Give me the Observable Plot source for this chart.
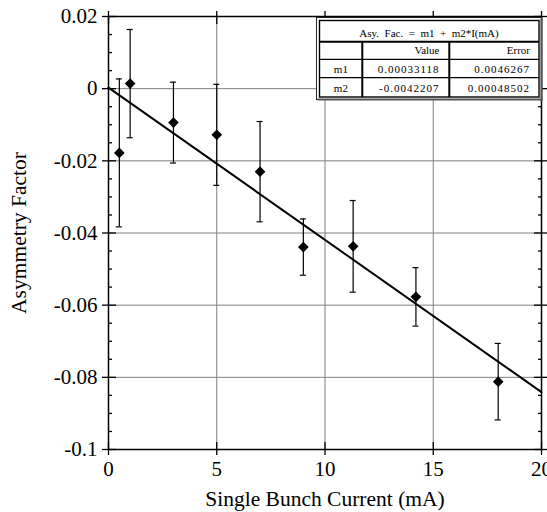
<!DOCTYPE html>
<html>
<head>
<meta charset="utf-8">
<script src="https://cdn.jsdelivr.net/npm/d3@7"></script>
<script src="https://cdn.jsdelivr.net/npm/@observablehq/plot@0.6"></script>
<style>
  html, body { margin: 0; padding: 0; background: white; }
  #chart svg { display: block; }
</style>
</head>
<body>
<div id="chart"></div>
<script>
// ---- data ----
const current = [0.5, 1, 3, 5, 7, 9, 11.3, 14.2, 18];
const asym    = [-0.0178, 0.0014, -0.0094, -0.0128, -0.0230, -0.0439, -0.0437, -0.0577, -0.0812];
const errs    = [0.0205, 0.0150, 0.0112, 0.0140, 0.0139, 0.0078, 0.0127, 0.0081, 0.0106];

// fitted line endpoints
const fitX = [0, 20];
const fitY = [0.0003, -0.0841];

// ticks
const xTicks = [0, 5, 10, 15, 20];
const xTickLabels = ["0", "5", "10", "15", "20"];
const yTicks = [0.02, 0, -0.02, -0.04, -0.06, -0.08, -0.1];
const yTickLabels = ["0.02", "0", "-0.02", "-0.04", "-0.06", "-0.08", "-0.1"];
const yMinor = [0.015, 0.01, 0.005, -0.005, -0.01, -0.015, -0.025, -0.03, -0.035,
                -0.045, -0.05, -0.055, -0.065, -0.07, -0.075, -0.085, -0.09, -0.095];
const xGrid = [5, 10, 15];
const yGrid = [0, -0.02, -0.04, -0.06, -0.08];

const xLabel = "Single Bunch Current (mA)";
const yLabel = "Asymmetry Factor";

// fit table
const tableTitle = "Asy.  Fac.  =  m1  +  m2*I(mA)";
const tableColumns = ["", "Value", "Error"];
const tableRows = ["m1", "m2"];
const tableValues = ["0.00033118", "-0.0042207"];
const tableErrors = ["0.0046267", "0.00048502"];

// ---- build ----
const points = current.map((c, i) => ({x: c, y: asym[i], lo: asym[i] - errs[i], hi: asym[i] + errs[i]}));
const fit = fitX.map((x, i) => ({x, y: fitY[i]}));

const font = "Liberation Serif, Times New Roman, Times";
const gridColor = "#808080";

const chart = Plot.plot({
  width: 547,
  height: 512,
  marginLeft: 108,
  marginRight: 6,
  marginTop: 16,
  marginBottom: 63,
  style: {fontFamily: font, fontSize: "21px", background: "white", color: "black"},
  x: {domain: [0, 20]},
  y: {domain: [-0.1, 0.02]},
  marks: [
    Plot.gridX({ticks: xGrid, stroke: gridColor, strokeOpacity: 1, strokeWidth: 1}),
    Plot.gridY({ticks: yGrid, stroke: gridColor, strokeOpacity: 1, strokeWidth: 1}),
    // tick labels
    Plot.axisX({ticks: xTicks, tickSize: 0, tickPadding: 12, label: null,
                tickFormat: d => xTickLabels[xTicks.indexOf(d)], fontSize: 21}),
    Plot.axisY({ticks: yTicks, tickSize: 0, tickPadding: 11, label: null,
                tickFormat: d => yTickLabels[yTicks.indexOf(d)], fontSize: 21}),
    // bottom ticks
    Plot.axisX({ticks: xTicks, tickSize: 6, fill: "none", label: null, strokeWidth: 1.3}),
    Plot.axisX({ticks: xTicks, tickSize: -7, fill: "none", label: null, strokeWidth: 1.3}),
    // top ticks
    Plot.axisX({anchor: "top", ticks: xTicks, tickSize: 6, fill: "none", label: null, strokeWidth: 1.3}),
    Plot.axisX({anchor: "top", ticks: xTicks, tickSize: -7, fill: "none", label: null, strokeWidth: 1.3}),
    // left ticks
    Plot.axisY({ticks: yTicks, tickSize: 6, fill: "none", label: null, strokeWidth: 1.3}),
    Plot.axisY({ticks: yTicks, tickSize: -8, fill: "none", label: null, strokeWidth: 1.3}),
    Plot.axisY({ticks: yMinor, tickSize: -4, fill: "none", label: null, strokeWidth: 1.3}),
    // right ticks
    Plot.axisY({anchor: "right", ticks: yTicks, tickSize: 6, fill: "none", label: null, strokeWidth: 1.3}),
    Plot.axisY({anchor: "right", ticks: yTicks, tickSize: -8, fill: "none", label: null, strokeWidth: 1.3}),
    Plot.axisY({anchor: "right", ticks: yMinor, tickSize: -4, fill: "none", label: null, strokeWidth: 1.3}),
    Plot.frame({stroke: "black", strokeWidth: 1.5}),
    // fit line
    Plot.line(fit, {x: "x", y: "y", stroke: "black", strokeWidth: 2}),
    // error bars
    Plot.ruleX(points, {x: "x", y1: "lo", y2: "hi", stroke: "black", strokeWidth: 1.2}),
    Plot.ruleY(points, {y: "lo", x1: "x", x2: "x", insetLeft: -3, insetRight: -3, stroke: "black", strokeWidth: 1.2}),
    Plot.ruleY(points, {y: "hi", x1: "x", x2: "x", insetLeft: -3, insetRight: -3, stroke: "black", strokeWidth: 1.2}),
    // markers
    Plot.dot(points, {x: "x", y: "y", symbol: "diamond2", r: 4.8, fill: "black", stroke: "none"}),
    // axis titles
    Plot.text([xLabel], {text: d => d, frameAnchor: "bottom", textAnchor: "middle", dy: 56, lineAnchor: "bottom", fontSize: 21.5}),
    Plot.text([yLabel], {text: d => d, frameAnchor: "left", textAnchor: "middle", rotate: -90, dx: -83, lineAnchor: "bottom", fontSize: 21.5})
  ]
});

document.getElementById("chart").appendChild(chart);

// ---- fit table annotation (top-right) ----
const svg = d3.select(chart);
const t = svg.append("g").attr("class", "fit-table").style("font-family", font);
const L = 316.5, T = 17.5, R = 541.5, B = 99.5;
const iL = 319.5, iT = 20.5, iR = 539, iB = 97;
const rowY = [41.7, 59.3, 77.7];
const colX = [362.3, 449.3];

t.append("rect").attr("x", L).attr("y", T).attr("width", R - L).attr("height", B - T)
  .attr("fill", "white").attr("stroke", "#222").attr("stroke-width", 1);
t.append("line").attr("x1", R).attr("x2", R).attr("y1", T + 1).attr("y2", B + 1.5)
  .attr("stroke", "#555").attr("stroke-width", 2.2);
t.append("line").attr("x1", L + 1).attr("x2", R + 1).attr("y1", B).attr("y2", B)
  .attr("stroke", "#555").attr("stroke-width", 2.2);
t.append("rect").attr("x", iL).attr("y", iT).attr("width", iR - iL).attr("height", iB - iT)
  .attr("fill", "white").attr("stroke", "black").attr("stroke-width", 1.4);
// horizontal separators
t.append("line").attr("x1", iL).attr("x2", iR).attr("y1", rowY[0]).attr("y2", rowY[0])
  .attr("stroke", "black").attr("stroke-width", 2);
t.append("line").attr("x1", iL).attr("x2", iR).attr("y1", rowY[1]).attr("y2", rowY[1])
  .attr("stroke", "black").attr("stroke-width", 1.2);
t.append("line").attr("x1", iL).attr("x2", iR).attr("y1", rowY[2]).attr("y2", rowY[2])
  .attr("stroke", "black").attr("stroke-width", 1.2);
// vertical separators
colX.forEach(cx => t.append("line").attr("x1", cx).attr("x2", cx).attr("y1", rowY[0]).attr("y2", iB)
  .attr("stroke", "black").attr("stroke-width", 2));

// title
t.append("text").attr("x", (L + R) / 2).attr("y", 36.7).attr("text-anchor", "middle")
  .attr("font-size", 11).style("white-space", "pre").text(tableTitle);
// header
const colRight = [null, 439.5, 530];
tableColumns.forEach((c, j) => {
  if (!c) return;
  t.append("text").attr("x", colRight[j]).attr("y", 54.3).attr("text-anchor", "end")
    .attr("font-size", 11).text(c);
});
const rowBase = [73.3, 91.7];
tableRows.forEach((r, i) => {
  t.append("text").attr("x", (iL + colX[0]) / 2).attr("y", rowBase[i]).attr("text-anchor", "middle")
    .attr("font-size", 11).text(r);
  t.append("text").attr("x", colRight[1]).attr("y", rowBase[i]).attr("text-anchor", "end")
    .attr("font-size", 11).attr("letter-spacing", 1).text(tableValues[i]);
  t.append("text").attr("x", colRight[2]).attr("y", rowBase[i]).attr("text-anchor", "end")
    .attr("font-size", 11).attr("letter-spacing", 1).text(tableErrors[i]);
});
</script>
</body>
</html>
